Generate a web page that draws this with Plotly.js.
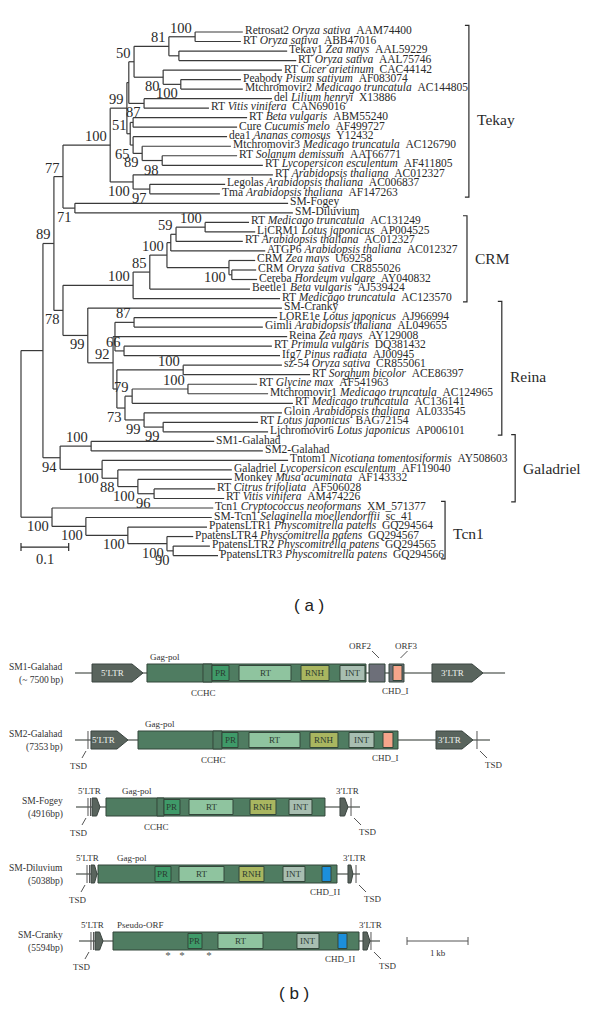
<!DOCTYPE html>
<html><head><meta charset="utf-8">
<script src="https://cdn.plot.ly/plotly-3.0.1.min.js"></script>
<style>html,body{margin:0;padding:0;background:#fff;}#chart{width:600px;height:1023px;}</style>
</head><body><div id="chart"></div>
<script>
// ================= (a) phylogenetic tree data =================
const leafNames = ["Retrosat2","RT","Tekay1","RT","RT","Peabody","Mtchromovir2","del","RT","RT","Cure","dea1","Mtchromovir3","RT","RT","RT","Legolas","Tma","SM-Fogey","SM-Diluvium","RT","LjCRM1","RT","ATGP6","CRM","CRM","Cereba","Beetle1","RT","SM-Cranky","LORE1e","Gimli","Reina","RT","Ifg7","sz-54","RT","RT","Mtchromovir1","RT","Gloin","RT","Ljchromovir6","SM1-Galahad","SM2-Galahad","Tntom1","Galadriel","Monkey","RT","RT","Tcn1","SM-Tcn1","PpatensLTR1","PpatensLTR4","PpatensLTR2","PpatensLTR3"];
const leafSpecies = ["Oryza sativa","Oryza sativa","Zea mays","Oryza sativa","Cicer arietinum","Pisum sativum","Medicago truncatula","Lilium henryi","Vitis vinifera","Beta vulgaris","Cucumis melo","Ananas comosus","Medicago truncatula","Solanum demissum","Lycopersicon esculentum","Arabidopsis thaliana","Arabidopsis thaliana","Arabidopsis thaliana","","","Medicago truncatula","Lotus japonicus","Arabidopsis thaliana","Arabidopsis thaliana","Zea mays","Oryza sativa","Hordeum vulgare","Beta vulgaris","Medicago truncatula","","Lotus japonicus","Arabidopsis thaliana","Zea mays","Primula vulgaris","Pinus radiata","Oryza sativa","Sorghum bicolor","Glycine max","Medicago truncatula","Medicago truncatula","Arabidopsis thaliana","Lotus japonicus","Lotus japonicus","","","Nicotiana tomentosiformis","Lycopersicon esculentum","Musa acuminata","Citrus trifoliata","Vitis vinifera","Cryptococcus neoformans","Selaginella moellendorffii","Physcomitrella patens","Physcomitrella patens","Physcomitrella patens","Physcomitrella patens"];
const leafAccession = ["AAM74400","ABB47016","AAL59229","AAL75746","CAC44142","AF083074","AC144805","X13886","CAN69016","ABM55240","AF499727","Y12432","AC126790","AAT66771","AF411805","AC012327","AC006837","AF147263","","","AC131249","AP004525","AC012327","AC012327","U69258","CR855026","AY040832","AJ539424","AC123570","","AJ966994","AL049655","AY129008","DQ381432","AJ00945","CR855061","ACE86397","AF541963","AC124965","AC136141","AL033545","BAG72154","AP006101","","","AY508603","AF119040","AF143332","AF506028","AM474226","XM_571377","sc_41","GQ294564","GQ294567","GQ294565","GQ294566"];
const leafParent = ["n100a","n100a","nT","nT","n80","n100b","n100b","n87","n87","nBC","nBC","n65","n89b","n98","n98","n100c","n97","n97","n71","n71","n100f","n100f","n59","nG","n100e","nH","nH","n85","crm","n99r","n87r","n87r","nJ","n66","n66","n100r","n100r","n100s","n100s","n79","n99g","n99h","n99h","n100g","n100g","n100h","n88","n100i","n96","n96","tcn","n100u","n100v","n100w","n90","n90"];
const leafDepth = [0.465,0.461,0.558,0.577,0.547,0.461,0.465,0.526,0.394,0.474,0.453,0.432,0.440,0.453,0.507,0.528,0.428,0.417,0.560,0.570,0.478,0.491,0.465,0.512,0.491,0.493,0.495,0.480,0.543,0.547,0.537,0.507,0.558,0.526,0.543,0.547,0.606,0.495,0.518,0.570,0.547,0.497,0.518,0.405,0.507,0.560,0.442,0.442,0.407,0.426,0.403,0.400,0.390,0.361,0.396,0.413];

const nodeIds     = ["root","n43","n89","n77","tek","n99","nY","n50","n81","n100a","nT","n80","n100b","n87","n51","nBC","n65","n89b","n98","n100c","n97","n71","n78","crm","n85","n100d","nG","n59","n100f","n100e","nH","n99r","n92","nJ","n87r","n66","nM","n100r","n73","n79","n100s","n99g","n99h","n94","n100g","n100h","n88","n100i","n96","tcn","n100u","n100v","n100w","n90"];
const nodeParent  = [null,"root","n43","n89","n77","tek","n99","nY","n50","n81","n81","n50","n80","nY","n99","n51","n51","n65","n89b","tek","n100c","n77","n89","n78","crm","n85","n100d","nG","n59","n100d","n100e","n78","n99r","n92","nJ","nJ","n92","nM","nM","n73","n79","n73","n99g","n43","n94","n94","n100h","n88","n100i","root","tcn","n100u","n100v","n100w"];
const nodeDepth   = [0,0.046,0.069,0.088,0.187,0.222,0.226,0.237,0.310,0.365,0.331,0.298,0.335,0.258,0.229,0.235,0.235,0.254,0.296,0.235,0.270,0.113,0.088,0.235,0.270,0.306,0.314,0.325,0.386,0.436,0.442,0.140,0.193,0.197,0.237,0.216,0.201,0.340,0.218,0.233,0.350,0.258,0.298,0.082,0.147,0.170,0.203,0.245,0.279,0.065,0.136,0.224,0.306,0.319];
const nodeSupport = [null,null,89,77,100,99,null,50,81,100,null,80,100,87,51,null,65,89,98,100,97,71,78,100,85,100,null,59,100,100,null,99,92,null,87,66,null,100,73,79,100,99,99,94,100,100,88,100,96,100,100,100,100,90];

const cladeNames = ["Tekay","CRM","Reina","Galadriel","Tcn1"];
const cladeFirstLeaf = [0,20,29,43,50];
const cladeLastLeaf  = [17,28,42,49,55];
const scaleBarLength = 0.1;

// ================= (b) element structure data (kb) =================
const elementNames = ["SM1-Galahad","SM2-Galahad","SM-Fogey","SM-Diluvium","SM-Cranky"];
const elementSizes = ["(~ 7500\u2009bp)","(7353\u2009bp)","(4916bp)","(5038bp)","(5594bp)"];
const backboneStart = [0, 0, 0.016, 0.016, 0.066];
const backboneEnd   = [7.05, 6.803, 4.672, 4.672, 5.0];
const ltr5Start = [0.279, 0.262, 0.279, 0.262, 0.328];
const ltr5End   = [1.115, 0.869, 0.410, 0.361, 0.459];
const ltr3Start = [5.852, 5.918, 4.344, 4.475, 4.721];
const ltr3End   = [6.689, 6.525, 4.475, 4.557, 4.836];
const orfStart  = [1.180, 1.033, 0.508, 0.377, 0.623];
const orfEnd    = [4.770, 5.295, 4.098, 4.295, 4.656];
const orfLabel  = ["Gag-pol","Gag-pol","Gag-pol","Gag-pol","Pseudo-ORF"];
const tsdLeft   = [null, 0.213, 0.213, 0.197, 0.262];
const tsdRight  = [null, 6.590, 4.525, 4.607, 4.852];
const tsdLeftDouble = [false, false, true, true, true];
const domainRow   = [0,0,0,0,0,0,0,0, 1,1,1,1,1,1, 2,2,2,2,2, 3,3,3,3,3, 4,4,4,4];
const domainType  = ["CCHC","PR","RT","RNH","INT","ORF2","ORF3","CHD_I", "CCHC","PR","RT","RNH","INT","CHD_I", "CCHC","PR","RT","RNH","INT", "PR","RT","RNH","INT","CHD_II", "PR","RT","INT","CHD_II"];
const domainStart = [2.098,2.246,2.689,3.705,4.344,4.820,5.148,5.213, 2.262,2.410,2.852,3.852,4.492,5.049, 1.344,1.459,1.869,2.869,3.508, 1.311,1.705,2.689,3.410,4.049, 1.852,2.344,3.639,4.311];
const domainEnd   = [2.246,2.525,3.541,4.164,4.754,5.082,5.393,5.361, 2.410,2.672,3.689,4.311,4.902,5.213, 1.459,1.721,2.590,3.295,3.885, 1.574,2.443,3.098,3.770,4.197, 2.082,3.082,4.000,4.459];
const stopCodonKb = [1.525, 1.754, 2.197];   // asterisks on SM-Cranky
const stopCodonRow = [4, 4, 4];
const scaleKb = 1;

// ================= layout / style (not data) =================
const W = 600, H = 1023;
const xRangeA = [-0.04403, 1.21384], yRangeA = [104.097, -3.3613];
const xRangeB = [-1.2295, 8.6066],  yRangeB = [5.2239, -10.0448];
const pxDepth = W/(xRangeA[1]-xRangeA[0]), pxLeaf = H/(yRangeA[0]-yRangeA[1]);
const pxKb = W/(xRangeB[1]-xRangeB[0]), pxRow = H/(yRangeB[0]-yRangeB[1]);
const supportSide = [0,0,1,1,1,1,0,1,1,1,0,-1,-1,-1,1,0,-1,-1,-1,-1,-1,-1,-1,1,1,1,0,1,1,-1,0,-1,1,0,1,1,0,1,-1,1,1,-1,-1,-1,1,-1,-1,-1,-1,-1,-1,-1,-1,-1];
const cladeBracketDepth = [0.939,0.935,1.008,1.036,0.889];
const cladeLabelShift = [-8,0,-8,0,-3];
const scaleBarRow = 54.1;
const gagLabelKb = [1.197,1.115,0.738,0.656,0.656];
const SERIF = "Liberation Serif, 'Times New Roman', 'DejaVu Serif', serif";
const SANS = "Liberation Sans, Arial, sans-serif";
const INK = "#2a2a2a";
const domainFill = {CCHC:"#4f7c61",PR:"#3f9a69",RT:"#8fc49f",RNH:"#a9b660",INT:"#a8beb1",ORF2:"#6d6f79",ORF3:"#6d6f79",CHD_I:"#f6a58b",CHD_II:"#1b8fdb"};

// ================= build tree =================
const depthOf = {}; nodeIds.forEach((id,k)=>depthOf[id]=nodeDepth[k]);
const kids = {}; nodeIds.forEach(id=>kids[id]=[]);
leafNames.forEach((_,i)=>kids[leafParent[i]].push({leaf:i}));
nodeIds.forEach((id,k)=>{ if(nodeParent[k]) kids[nodeParent[k]].push({node:id}); });
const yOf = {}, span = {};
function calcY(id){
  if(yOf[id]!==undefined) return yOf[id];
  const ys = kids[id].map(c=> c.leaf!==undefined ? c.leaf : calcY(c.node));
  const lo=Math.min(...ys), hi=Math.max(...ys);
  span[id]=[lo,hi]; yOf[id]=(lo+hi)/2; return yOf[id];
}
nodeIds.forEach(calcY);

const bx=[], by=[];
leafNames.forEach((_,i)=>{ bx.push(depthOf[leafParent[i]], leafDepth[i], null); by.push(i,i,null); });
nodeIds.forEach((id,k)=>{
  const p=nodeParent[k];
  if(p){ bx.push(depthOf[p], nodeDepth[k], null); by.push(yOf[id], yOf[id], null); }
  bx.push(nodeDepth[k], nodeDepth[k], null); by.push(span[id][0], span[id][1], null);
});

const ann = [], shapes = [];
leafNames.forEach((n,i)=>{
  const txt = leafSpecies[i] ? `${n} <i>${leafSpecies[i]}</i>\u00a0\u00a0${leafAccession[i]}` : n;
  ann.push({x:leafDepth[i], y:i, xref:'x', yref:'y', text:txt, showarrow:false, xanchor:'left', yanchor:'middle',
    xshift:0, yshift:1.5, font:{family:SERIF, size:11.5, color:INK}});
});
nodeIds.forEach((id,k)=>{
  if(nodeSupport[k]==null) return;
  const up = supportSide[k]>0;
  ann.push({x:nodeDepth[k], y:yOf[id], xref:'x', yref:'y', text:String(nodeSupport[k]), showarrow:false,
    xanchor:'right', yanchor: up?'bottom':'top', xshift:-1, yshift: up?-1:1, font:{family:SERIF, size:14.5, color:INK}});
});
// clade brackets
const tickD = 4/pxDepth;
cladeNames.forEach((c,j)=>{
  const x = cladeBracketDepth[j], y0 = cladeFirstLeaf[j]-0.7, y1 = cladeLastLeaf[j]+0.35;
  shapes.push({type:'path', xref:'x', yref:'y', path:`M${x-tickD},${y0} L${x},${y0} L${x},${y1} L${x-tickD},${y1}`, line:{color:INK, width:1.2}});
  ann.push({x:x, y:(y0+y1)/2, xref:'x', yref:'y', text:c, showarrow:false, xanchor:'left', yanchor:'middle', xshift:6,
    yshift:cladeLabelShift[j], font:{family:SERIF, size:15.5, color:INK}});
});
// scale bar
const sbTick = 4/pxLeaf;
shapes.push({type:'line', xref:'x', yref:'y', x0:0, x1:scaleBarLength, y0:scaleBarRow, y1:scaleBarRow, line:{color:INK,width:1.2}});
[0, scaleBarLength].forEach(x=>shapes.push({type:'line', xref:'x', yref:'y', x0:x, x1:x, y0:scaleBarRow-sbTick, y1:scaleBarRow+sbTick, line:{color:INK,width:1.2}}));
ann.push({x:scaleBarLength/2, y:scaleBarRow, xref:'x', yref:'y', text:String(scaleBarLength), showarrow:false, xanchor:'center', yanchor:'top', yshift:-2,
  font:{family:SERIF, size:14.5, color:INK}});
ann.push({x:0.515, y:1-605/H, xref:'paper', yref:'paper', text:'( a )', showarrow:false, font:{family:SANS, size:17, color:'#222'}});

// ================= build (b) =================
const dR = p => p/pxRow, dK = p => p/pxKb;
const hBox = dR(9), hDom = dR(7.5);
function addText(x, y, text, opt){
  ann.push(Object.assign({x, y, xref:'x2', yref:'y2', text, showarrow:false, font:{family:SERIF, size:9, color:'#333'}}, opt||{}));
}
function line2(x0,y0,x1,y1,color,width){ shapes.push({type:'line', xref:'x2', yref:'y2', x0,x1,y0,y1, line:{color:color||'#555', width:width||1}}); }
function ltrPath(s,e,r){
  const w=e-s, tip=Math.min(dK(11), 0.42*w);
  return `M${s},${r-hBox} L${e-tip},${r-hBox} L${e},${r} L${e-tip},${r+hBox} L${s},${r+hBox} Z`;
}
elementNames.forEach((nm,r)=>{
  line2(backboneStart[r], r, backboneEnd[r], r, '#6f7471', 1.4);
  // names
  const nameX = xRangeB[0] + 65/pxKb;
  addText(nameX, r, nm, {xanchor:'right', yanchor:'middle', yshift:6, font:{family:SERIF,size:9.5,color:'#333'}});
  addText(nameX, r, elementSizes[r], {xanchor:'right', yanchor:'middle', yshift:-7, font:{family:SERIF,size:9.5,color:'#333'}});
  // TSD
  if(tsdLeft[r]!=null){
    const x=tsdLeft[r];
    line2(x, r-hBox, x, r+hBox, '#555', 1);
    if(tsdLeftDouble[r]) line2(x+dK(2.5), r-hBox, x+dK(2.5), r+hBox, '#555', 1);
    line2(x-dK(2), r+dR(11), x-dK(6), r+dR(18), '#555', 1);
    addText(x, r, 'TSD', {xanchor:'center', yanchor:'middle', xshift:-9, yshift:-26});
  }
  if(tsdRight[r]!=null){
    const x=tsdRight[r];
    line2(x, r-hBox, x, r+hBox, '#555', 1);
    line2(x+dK(3), r+dR(11), x+dK(10), r+dR(18), '#555', 1);
    addText(x, r, 'TSD', {xanchor:'center', yanchor:'middle', xshift:17, yshift:-25});
  }
  // LTRs
  [[ltr5Start[r],ltr5End[r],'5\u2032LTR'],[ltr3Start[r],ltr3End[r],'3\u2032LTR']].forEach(([s,e,lab],q)=>{
    shapes.push({type:'path', xref:'x2', yref:'y2', path:ltrPath(s,e,r), fillcolor:'#59645d', line:{color:'#3b4540', width:1}});
    const wpx = (e-s)*pxKb;
    if(wpx>25){
      addText(s+(e-s-dK(11))/2, r, lab, {xanchor:'center', yanchor:'middle', font:{family:SERIF,size:9,color:'#eef2ee'}});
    } else {
      addText((s+e)/2, r, lab, {xanchor:'center', yanchor:'middle', xshift: q===0?-7:4, yshift:16, font:{family:SERIF,size:9,color:'#333'}});
    }
  });
  // ORF
  shapes.push({type:'rect', xref:'x2', yref:'y2', x0:orfStart[r], x1:orfEnd[r], y0:r-hBox, y1:r+hBox, fillcolor:'#4f7c61', line:{color:'#33463a', width:1}});
  addText(gagLabelKb[r], r, orfLabel[r], {xanchor:'left', yanchor:'middle', yshift:16});
});
domainType.forEach((t,k)=>{
  const r=domainRow[k], s=domainStart[k], e=domainEnd[k], c=(s+e)/2;
  const full = (t==='CCHC'||t==='ORF2'||t==='ORF3');
  const h = full? hBox : hDom;
  shapes.push({type:'rect', xref:'x2', yref:'y2', x0:s, x1:e, y0:r-h, y1:r+h, fillcolor:domainFill[t], line:{color:'#33463a', width:1}});
  if(t==='PR'||t==='RT'||t==='RNH'||t==='INT'){
    addText(c, r, t, {xanchor:'center', yanchor:'middle', font:{family:SERIF,size:9,color:'#2c3b31'}});
  } else if(t==='CCHC'){
    addText(c, r, 'CCHC', {xanchor:'center', yanchor:'middle', xshift:-4, yshift:-20});
  } else if(t==='CHD_I'||t==='CHD_II'){
    addText(c, r, t.replace('_II','_I\u200aI'), {xanchor:'center', yanchor:'middle', xshift:-2, yshift:-18});
  } else if(t==='ORF2'){
    line2(c-dK(5), r-dR(22), c+dK(2), r-dR(15), '#555', 1);
    addText(c, r, 'ORF2', {xanchor:'center', yanchor:'middle', xshift:-17, yshift:27});
  } else if(t==='ORF3'){
    line2(c+dK(11), r-dR(22), c+dK(4), r-dR(15), '#555', 1);
    addText(c, r, 'ORF3', {xanchor:'center', yanchor:'middle', xshift:10, yshift:27});
  }
});
// 1 kb scale bar
const sbx0 = 5.443, sbRow = 4;
line2(sbx0, sbRow, sbx0+scaleKb, sbRow, '#555', 1);
[sbx0, sbx0+scaleKb].forEach(x=>line2(x, sbRow-dR(4), x, sbRow+dR(4), '#555', 1));
addText(sbx0+scaleKb/2, sbRow, scaleKb+'\u2009kb', {xanchor:'center', yanchor:'middle', yshift:-12});
ann.push({x:0.49, y:1-1005/H, xref:'paper', yref:'paper', text:'( b )', showarrow:false, font:{family:SANS, size:17, color:'#222'}});

const traces = [
  {type:'scatter', mode:'lines', x:bx, y:by, xaxis:'x', yaxis:'y', line:{color:'#3a3a3a', width:1.2}, hoverinfo:'skip', connectgaps:false},
  {type:'scatter', mode:'text', x:stopCodonKb, y:stopCodonRow.map(r=>r+dR(15)), xaxis:'x2', yaxis:'y2', text:stopCodonKb.map(()=>'*'),
    textfont:{family:SERIF, size:11, color:'#555'}, hoverinfo:'skip'}
];
const layout = {
  width:W, height:H, margin:{l:0,r:0,t:0,b:0}, paper_bgcolor:'#fff', plot_bgcolor:'rgba(0,0,0,0)',
  showlegend:false, hovermode:false,
  xaxis:{range:xRangeA, visible:false, fixedrange:true},
  yaxis:{range:yRangeA, visible:false, fixedrange:true},
  xaxis2:{range:xRangeB, visible:false, overlaying:'x', anchor:'y2', fixedrange:true},
  yaxis2:{range:yRangeB, visible:false, overlaying:'y', anchor:'x2', fixedrange:true},
  shapes, annotations:ann
};
Plotly.newPlot('chart', traces, layout, {displayModeBar:false, staticPlot:true});
</script>
</body></html>
